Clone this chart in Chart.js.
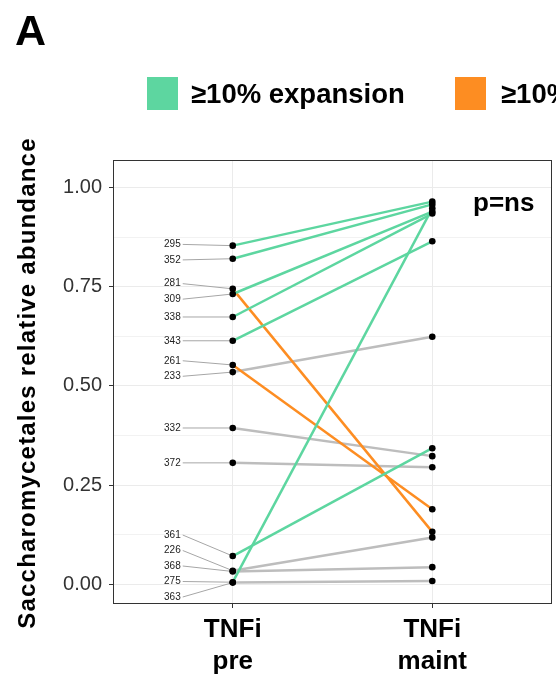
<!DOCTYPE html>
<html>
<head>
<meta charset="utf-8">
<script src="https://cdn.jsdelivr.net/npm/chart.js@4.4.0/dist/chart.umd.min.js"></script>
<style>
  html, body { margin: 0; padding: 0; background: #fff; }
  #wrap { position: relative; width: 556px; height: 684px; }
</style>
</head>
<body>
<div id="wrap"><canvas id="slopeChart" width="556" height="684"></canvas></div>
<script>
// data
const sampleIds = ["295", "352", "281", "309", "338", "343", "261", "233", "332", "372", "361", "226", "368", "275", "363"];
const preValues = [0.854, 0.821, 0.745, 0.732, 0.674, 0.614, 0.553, 0.535, 0.394, 0.306, 0.071, 0.034, 0.032, 0.005, 0.004];
const maintValues = [0.965, 0.958, 0.132, 0.940, 0.935, 0.865, 0.189, 0.624, 0.323, 0.295, 0.343, 0.118, 0.043, 0.948, 0.008];
const changeGroup = ["up", "up", "down", "up", "up", "up", "down", "none", "none", "none", "up", "none", "none", "up", "none"];
const timepoints = [["TNFi", "pre"], ["TNFi", "maint"]];
const yTickValues = [0, 0.25, 0.5, 0.75, 1];
const yMinorValues = [0.125, 0.375, 0.625, 0.875];
const legendLabels = ["≥10% expansion", "≥10% contraction"];

const groupColors = { up: "#5dd6a0", down: "#fd8d22", none: "#bdbdbd" };
const FONT = "'Liberation Sans', Arial, Helvetica, sans-serif";

Chart.defaults.font.family = FONT;

// points first so they sit on top, then coloured lines, then grey ones
const datasets = [];
const allPoints = [];
preValues.forEach((v, i) => {
  allPoints.push({ x: 1, y: v });
  allPoints.push({ x: 2, y: maintValues[i] });
});
datasets.push({
  data: allPoints,
  showLine: false,
  pointRadius: 3.3,
  pointBackgroundColor: "#000",
  pointBorderWidth: 0,
});

["up", "down", "none"].forEach((g) => {
  sampleIds.forEach((id, i) => {
    if (changeGroup[i] !== g) return;
    datasets.push({
      label: id,
      data: [
        { x: 1, y: preValues[i] },
        { x: 2, y: maintValues[i] },
      ],
      showLine: true,
      borderColor: groupColors[g],
      borderWidth: 2.5,
      pointRadius: 0,
    });
  });
});

// simple label repel in pixel space
function repelLabels(ys, gap, lo, hi) {
  const order = ys.map((y, i) => i).sort((a, b) => ys[a] - ys[b]);
  const pos = order.map((i) => ys[i]);
  for (let k = 0; k < 300; k++) {
    for (let j = 1; j < pos.length; j++) {
      const d = pos[j] - pos[j - 1];
      if (d < gap) {
        const push = (gap - d) / 2;
        pos[j - 1] -= push;
        pos[j] += push;
      }
    }
    for (let j = 0; j < pos.length; j++) {
      pos[j] = Math.min(hi, Math.max(lo, pos[j]));
    }
  }
  const out = [];
  order.forEach((i, j) => (out[i] = pos[j]));
  return out;
}

const decorPlugin = {
  id: "decor",
  beforeDatasetsDraw(chart) {
    const { ctx, chartArea } = chart;
    const xs = chart.scales.x;
    const ys = chart.scales.y;
    const px = xs.getPixelForValue(1);
    const pointY = preValues.map((v) => ys.getPixelForValue(v));
    const labelY = repelLabels(pointY, 15.5, chartArea.top + 8, chartArea.bottom - 7);
    ctx.save();
    ctx.font = "10px " + FONT;
    ctx.textAlign = "right";
    ctx.textBaseline = "middle";
    sampleIds.forEach((id, i) => {
      ctx.strokeStyle = "#a6a6a6";
      ctx.lineWidth = 1;
      ctx.beginPath();
      ctx.moveTo(px - 50, labelY[i]);
      ctx.lineTo(px, pointY[i]);
      ctx.stroke();
      ctx.fillStyle = "#222";
      ctx.fillText(id, px - 52, labelY[i]);
    });
    ctx.restore();
  },
  afterDraw(chart) {
    const { ctx, chartArea } = chart;
    ctx.save();
    // panel border
    ctx.strokeStyle = "#333";
    ctx.lineWidth = 1;
    ctx.strokeRect(chartArea.left + 0.5, chartArea.top + 0.5, chartArea.right - chartArea.left - 1, chartArea.bottom - chartArea.top - 1);

    // panel tag
    ctx.fillStyle = "#000";
    ctx.textAlign = "left";
    ctx.textBaseline = "alphabetic";
    ctx.font = "bold 43px " + FONT;
    ctx.fillText("A", 15, 45);

    // legend
    ctx.font = "bold 27.5px " + FONT;
    ctx.fillStyle = groupColors.up;
    ctx.fillRect(147, 77, 31, 33);
    ctx.fillStyle = groupColors.down;
    ctx.fillRect(455, 77, 31, 33);
    ctx.fillStyle = "#000";
    ctx.fillText(legendLabels[0], 191, 103);
    ctx.fillText(legendLabels[1], 501, 103);

    // p value
    ctx.font = "bold 26px " + FONT;
    ctx.fillText("p=ns", 473, 211);

    // y title
    ctx.translate(28, 383);
    ctx.rotate(-Math.PI / 2);
    ctx.textAlign = "center";
    ctx.textBaseline = "middle";
    ctx.font = "bold 24px " + FONT;
    ctx.letterSpacing = "1.2px";
    ctx.fillText("Saccharomycetales relative abundance", 0, 0);
    ctx.restore();
  },
};

new Chart(document.getElementById("slopeChart"), {
  type: "scatter",
  data: { datasets: datasets },
  plugins: [decorPlugin],
  options: {
    responsive: false,
    animation: false,
    events: [],
    layout: { padding: { top: 160, right: 4, left: 0, bottom: 0 } },
    plugins: {
      legend: { display: false },
      tooltip: { enabled: false },
    },
    scales: {
      x: {
        type: "linear",
        min: 0.4,
        max: 2.6,
        afterBuildTicks: (s) => {
          s.ticks = [{ value: 1 }, { value: 2 }];
        },
        afterFit: (s) => {
          s.height = 80;
        },
        ticks: {
          callback: (v) => timepoints[v - 1],
          font: { size: 26, weight: "bold", lineHeight: 1.23 },
          color: "#000",
          padding: 6,
          maxRotation: 0,
          autoSkip: false,
        },
        grid: { color: "#ebebeb", tickColor: "#333", tickLength: 4 },
        border: { display: false },
      },
      y: {
        min: -0.05,
        max: 1.07,
        afterBuildTicks: (s) => {
          s.ticks = [...yTickValues, ...yMinorValues]
            .sort((a, b) => a - b)
            .map((v) => ({ value: v }));
        },
        afterFit: (s) => {
          s.width = 113;
        },
        ticks: {
          callback: (v) => (yTickValues.includes(v) ? v.toFixed(2) : ""),
          font: { size: 20 },
          color: "#333",
          padding: 7,
        },
        grid: {
          color: (c) => (yTickValues.includes(c.tick.value) ? "#ebebeb" : "#f2f2f2"),
          tickColor: (c) => (yTickValues.includes(c.tick.value) ? "#333" : "rgba(0,0,0,0)"),
          tickLength: 4,
        },
        border: { display: false },
      },
    },
  },
});
</script>
</body>
</html>
